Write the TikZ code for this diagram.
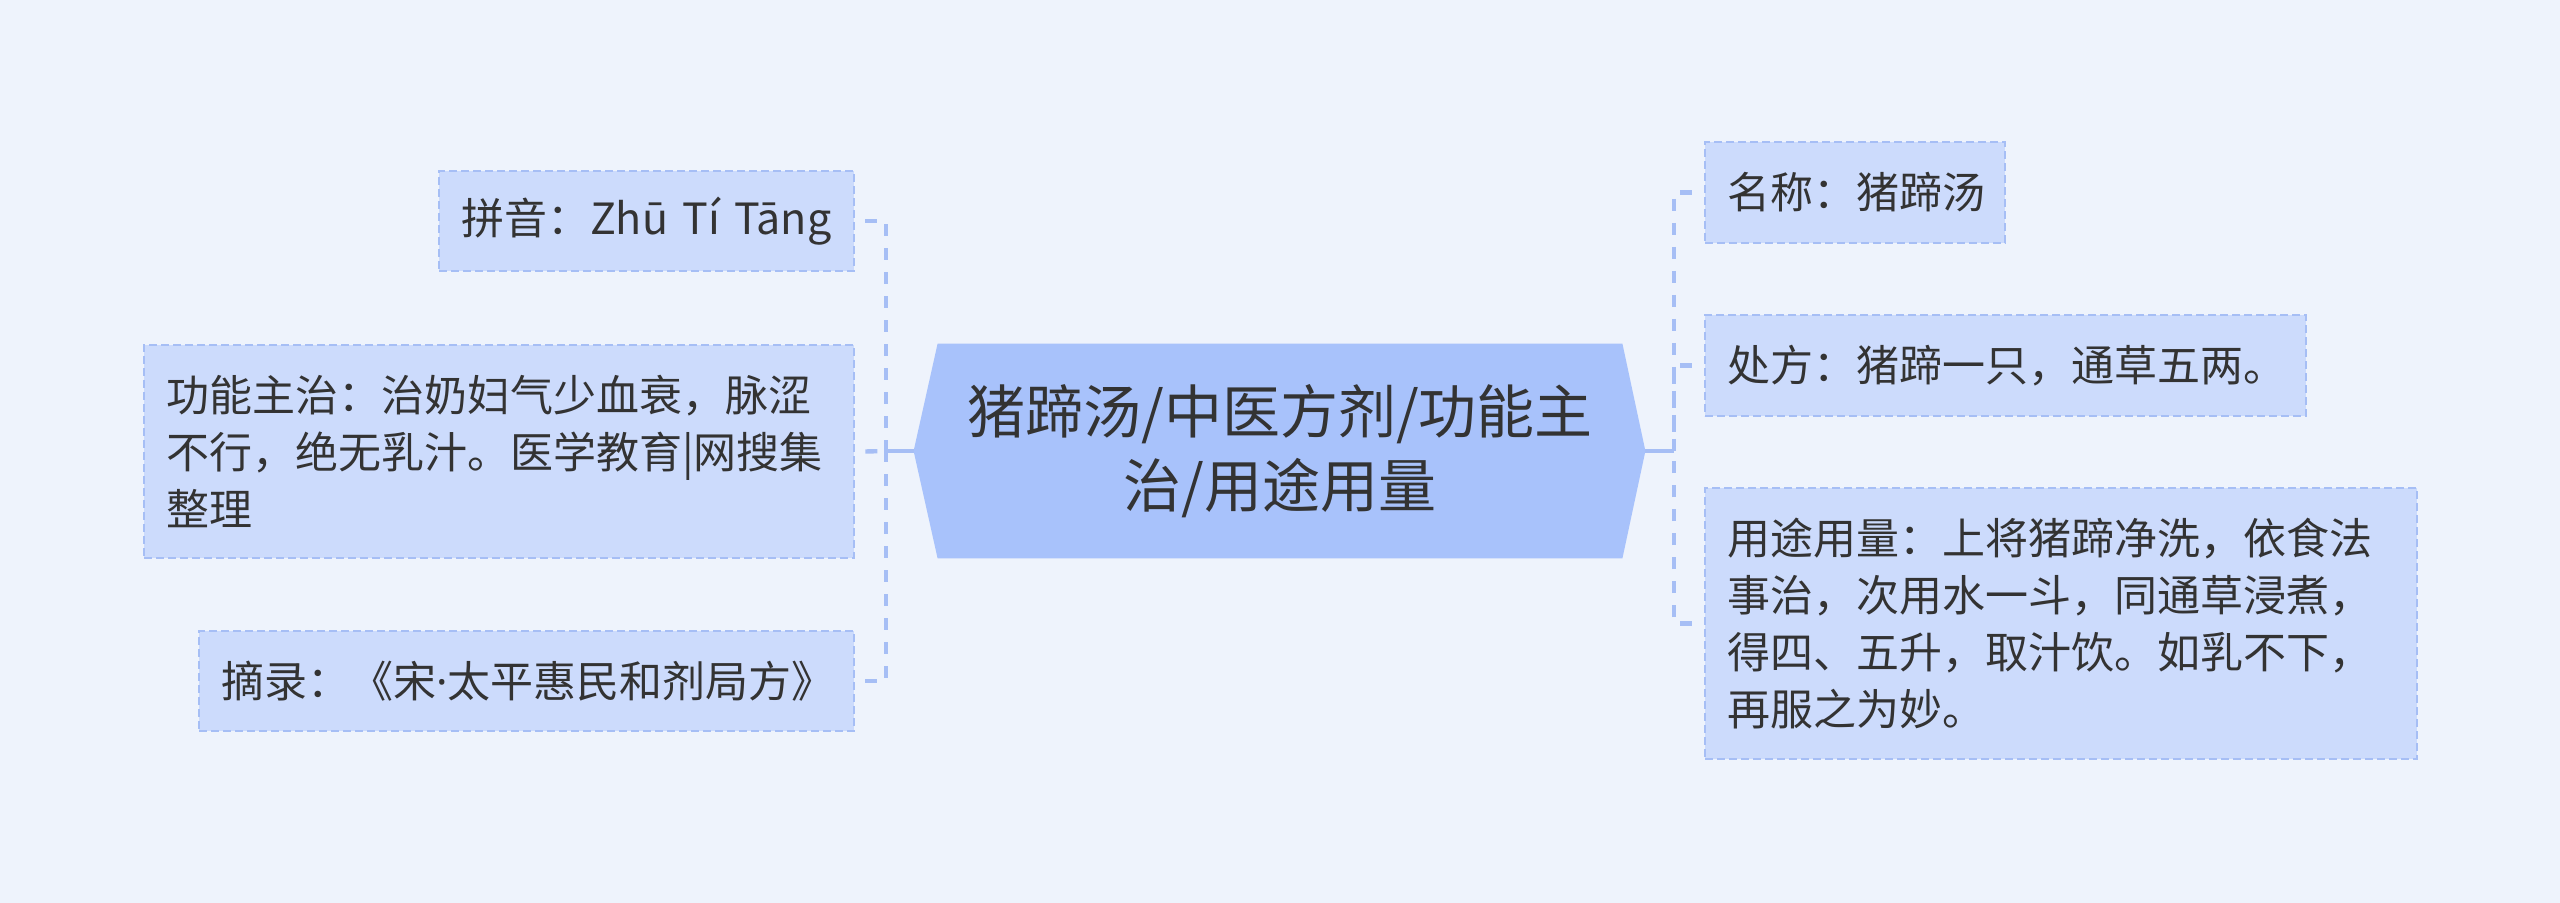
\documentclass[tikz,border=0pt]{standalone}
\usepackage{fontspec}
\setmainfont{Noto Sans CJK SC}
\newfontfamily\dotfont{Noto Sans}
\usetikzlibrary{calc,backgrounds}
\definecolor{bg}{HTML}{EEF3FC}
\definecolor{boxfill}{HTML}{CCDBFC}
\definecolor{lineblue}{HTML}{A6BEF5}
\definecolor{centerfill}{HTML}{A8C2FB}
\definecolor{txt}{HTML}{333333}
\begin{document}
\begin{tikzpicture}[x=0.5pt,y=-0.5pt,
  leaf/.style={draw=lineblue, fill=boxfill, dash pattern=on 4pt off 2pt, line width=1.3pt,
    text=txt, font=\fontsize{21.5pt}{28.5pt}\selectfont, align=left, inner sep=0pt},
  conn/.style={draw=lineblue, line width=2.2pt, dash pattern=on 6pt off 6pt},
  trunk/.style={draw=lineblue, line width=2.4pt},
  hub/.style={inner sep=0pt, text=txt, align=center, font=\fontsize{29pt}{36.8pt}\selectfont}]
\begin{scope}[on background layer]
\fill[bg] (0,0) rectangle (2560,903);
\end{scope}
\useasboundingbox (0,0) rectangle (2560,903);

% central node
\node[hub, minimum width=342pt, minimum height=107pt] (ct) at (1280,451)
  {猪蹄汤/中医方剂/功能主\\治/用途用量};
\begin{scope}[on background layer]
\fill[centerfill] (ct.north west) -- ($(ct.west)+(-24,0)$) -- (ct.south west)
  -- (ct.south east) -- ($(ct.east)+(23,0)$) -- (ct.north east) -- cycle;
\end{scope}

% left leaves
\node[leaf, minimum width=207.5pt, minimum height=50pt, text width=185.5pt] (py) at (646.5,221)
  {拼音：Zhū Tí Tāng};
\node[leaf, minimum width=355pt, minimum height=106.5pt, text width=333pt] (gn) at (499,451.5)
  {功能主治：治奶妇气少血衰，脉涩\\不行，绝无乳汁。医学教育|网搜集\\整理};
\node[leaf, minimum width=327.5pt, minimum height=50pt, text width=305.5pt] (zl) at (526.5,681)
  {摘录：《宋{\dotfont ·}太平惠民和剂局方》};

% right leaves
\node[leaf, minimum width=150pt, minimum height=50.5pt, text width=128pt] (mc) at (1855,192.5)
  {名称：猪蹄汤};
\node[leaf, minimum width=300.5pt, minimum height=50.5pt, text width=278.5pt] (cf) at (2005.5,365.5)
  {处方：猪蹄一只，通草五两。};
\node[leaf, minimum width=356pt, minimum height=135.5pt, text width=334pt] (yt) at (2061,623.5)
  {用途用量：上将猪蹄净洗，依食法\\事治，次用水一斗，同通草浸煮，\\得四、五升，取汁饮。如乳不下，\\再服之为妙。};

% junctions
\coordinate (jl) at (886,451);
\coordinate (jr) at (1674,451);

% connectors
\draw[trunk] ($(ct.west)+(-24,0)$) -- (jl);
\draw[conn] ([xshift=5pt]py.east) -| (jl);
\draw[conn] ([xshift=5pt]zl.east) -| (jl);
\draw[conn] ([xshift=5pt]gn.east) -- (jl);

\draw[trunk] ($(ct.east)+(23,0)$) -- (jr);
\draw[conn] ([xshift=-6pt]mc.west) -| (jr);
\draw[conn] ([xshift=-6pt]cf.west) -| (jr);
\draw[conn] ([xshift=-6pt]yt.west) -| (jr);
\end{tikzpicture}
\end{document}
